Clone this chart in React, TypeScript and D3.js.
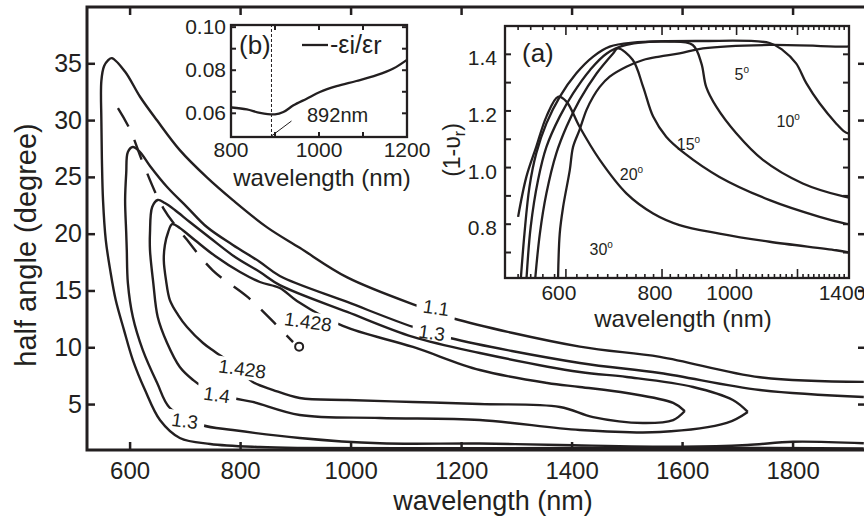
import React from "react";
import * as d3 from "d3";

type Pt = [number, number];

// ---- main contour plot: [wavelength (nm), half angle (deg)] ----
const mainXTicks = [600, 800, 1000, 1200, 1400, 1600, 1800];
const mainYTicks = [5, 10, 15, 20, 25, 30, 35];

const contour11: Pt[] = [
  [1928, 1.13], [1632, 1.2], [1414, 1.18], [1088, 1.15], [907, 1.18], [835, 1.26], [745, 1.53],
  [690, 2.06], [654, 3.64], [627, 6.28], [605, 8.92], [589, 11.56], [574, 14.2], [564, 16.84],
  [556, 19.48], [551, 23.0], [549, 26.5], [548, 30.0], [548, 33.5], [553, 34.8], [560, 35.3],
  [567, 35.5], [591, 34.3], [618, 32.1], [649, 30.0], [690, 27.4], [739, 25.0], [786, 23.0],
  [848, 20.6], [907, 18.8], [993, 16.2], [1125, 13.6], [1184, 12.6], [1414, 10.1], [1559, 9.2],
  [1740, 7.4], [1928, 7.0],
];
const contour13: Pt[] = [
  [1928, 1.59], [1800, 1.73], [1717, 1.44], [1601, 1.29], [1378, 1.44], [1233, 1.57], [1052, 1.59],
  [907, 2.06], [786, 2.76], [730, 3.2], [672, 4.7], [649, 6.9], [623, 9.8], [605, 12.71],
  [596, 15.7], [594, 18.61], [593, 20.1], [591, 23.0], [593, 25.38], [596, 27.23], [605, 27.67],
  [618, 27.23], [636, 26.0], [667, 24.15], [703, 22.39], [739, 20.63], [786, 19.05], [835, 17.55],
  [871, 16.32], [993, 14.03], [1112, 11.83], [1179, 10.86], [1414, 8.66], [1559, 7.78],
  [1740, 6.28], [1928, 5.67],
];
const contour14: Pt[] = [
  [1718, 4.35], [1680, 3.38], [1559, 2.58], [1414, 2.76], [1233, 3.64], [1052, 3.82], [907, 4.08],
  [822, 5.23], [786, 5.58], [732, 6.55], [714, 7.16], [690, 8.31], [667, 10.42], [650, 12.71],
  [642, 15.7], [636, 18.61], [636, 20.1], [640, 22.39], [650, 23.01], [663, 22.74], [681, 22.13],
  [708, 21.07], [745, 19.66], [790, 17.99], [835, 16.67], [871, 15.52], [993, 13.15],
  [1112, 10.95], [1233, 9.54], [1414, 7.87], [1499, 7.43], [1619, 6.55], [1691, 5.4], [1718, 4.35],
];
const contour1428: Pt[] = [
  [1604, 4.43], [1583, 3.64], [1528, 3.38], [1438, 3.9], [1378, 4.79], [1233, 5.05], [1112, 5.23],
  [993, 5.4], [907, 5.58], [859, 6.28], [822, 6.99], [790, 8.39], [754, 9.63], [732, 10.42],
  [703, 11.83], [687, 12.88], [672, 14.2], [665, 15.96], [661, 17.73], [663, 19.05], [669, 20.19],
  [676, 20.89], [690, 20.54], [717, 19.49], [754, 18.08], [799, 16.67], [835, 15.79], [871, 15.26],
  [902, 14.12], [985, 11.92], [1112, 10.07], [1233, 8.04], [1355, 6.9], [1414, 6.55], [1499, 6.02],
  [1583, 5.14], [1604, 4.43],
];
const contourLabels = ["1.1", "1.3", "1.428", "1.428", "1.4", "1.3"];
const contourLabelPos: Pt[] = [[1154, 13.5], [1146, 11.3], [922, 12.27], [803, 8.13], [757, 5.84], [699, 3.55]];
const contourLabelOn = [0, 1, 3, 3, 2, 1]; // which contour each label breaks
const contourLabelTilt = [8, 8, 8, 8, 8, 8];

const dashedTrace: Pt[] = [
  [578, 31.1], [600, 29.2], [623, 26.3], [660, 22.3], [703, 19.5], [750, 16.8], [812, 14.5],
  [859, 12.3], [895, 10.5],
];
const optimumPoint: Pt = [906, 10.1];

// ---- inset (b): -eps_i/eps_r ----
const bXTicks = [800, 900, 1000, 1100, 1200];
const bXLabels = [800, 1000, 1200];
const bYTicks = [0.06, 0.07, 0.08, 0.09, 0.1];
const bYLabels = [0.06, 0.08, 0.1];
const epsRatio: Pt[] = [
  [802, 0.0627], [836, 0.0618], [866, 0.0602], [900, 0.0595], [919, 0.0606], [942, 0.0637],
  [972, 0.0668], [1002, 0.0699], [1040, 0.0726], [1085, 0.075], [1131, 0.0777], [1169, 0.0808],
  [1199, 0.0847],
];
const minWavelength = 892;

// ---- inset (a): (1-Upsilon_r) vs wavelength for several angles ----
const aMajorTicks = [600, 800, 1000, 1200, 1400];
const aXLabels = [600, 800, 1000, 1400];
const aYTicks = [0.7, 0.8, 0.9, 1.0, 1.1, 1.2, 1.3, 1.4, 1.5];
const aYLabels = [0.8, 1.0, 1.2, 1.4];
const curve5: Pt[] = [
  [586, 0.6], [589, 0.767], [595, 0.861], [607, 0.991], [613, 1.073], [625, 1.133], [638, 1.203],
  [651, 1.25], [664, 1.285], [684, 1.321], [719, 1.356], [756, 1.38], [794, 1.392], [843, 1.403],
  [904, 1.421], [1104, 1.433], [1381, 1.427], [1400, 1.428],
];
const curve10: Pt[] = [
  [524, 0.6], [530, 0.767], [538, 0.932], [549, 1.05], [566, 1.156], [589, 1.25], [619, 1.333],
  [651, 1.392], [684, 1.427], [733, 1.441], [900, 1.447], [1104, 1.44], [1148, 1.415],
  [1195, 1.368], [1232, 1.298], [1282, 1.227], [1347, 1.156], [1381, 1.127], [1400, 1.12],
];
const curve15: Pt[] = [
  [533, 0.6], [540, 0.791], [552, 0.956], [566, 1.073], [589, 1.18], [613, 1.262], [645, 1.345],
  [678, 1.403], [719, 1.433], [818, 1.445], [877, 1.433], [900, 1.368], [913, 1.285], [941, 1.215],
  [999, 1.121], [1082, 1.027], [1219, 0.944], [1381, 0.897], [1400, 0.894],
];
const curve20: Pt[] = [
  [547, 0.6], [555, 0.767], [566, 0.909], [583, 1.05], [601, 1.144], [625, 1.238], [658, 1.333],
  [691, 1.403], [701, 1.421], [733, 1.38], [756, 1.285], [779, 1.18], [810, 1.109], [856, 1.05],
  [950, 0.967], [1104, 0.885], [1282, 0.826], [1381, 0.803], [1400, 0.8],
];
const curve30: Pt[] = [
  [520, 0.826], [533, 0.967], [549, 1.073], [566, 1.18], [586, 1.25], [601, 1.233], [625, 1.144],
  [664, 1.027], [719, 0.909], [779, 0.838], [843, 0.797], [950, 0.767], [1104, 0.738],
  [1347, 0.708], [1400, 0.7],
];
const angleNames = ["5", "10", "15", "20", "30"];
const angleLabelPos: Pt[] = [[994, 1.309], [1127, 1.143], [836, 1.062], [705, 0.956], [644, 0.691]];

const ink = "#231f20";
const font = "'Liberation Sans', Arial, sans-serif";

export default function App() {
  // main scales
  const mx = d3.scaleLinear().domain([522, 1932]).range([87, 866]);
  const my = d3.scaleLinear().domain([1, 40]).range([450, 7]);
  const mLine = d3.line<Pt>().x(d => mx(d[0])).y(d => my(d[1])).curve(d3.curveCatmullRom.alpha(0.5));

  // inset b
  const bx = d3.scaleLinear().domain([800, 1200]).range([231, 407]);
  const by = d3.scaleLinear().domain([0.049, 0.101]).range([137, 25]);
  const bLine = d3.line<Pt>().x(d => bx(d[0])).y(d => by(d[1])).curve(d3.curveCatmullRom.alpha(0.5));

  // inset a
  const ax = d3.scaleLog().domain([500, 1400]).range([505, 849]);
  const ay = d3.scaleLinear().domain([0.61, 1.5]).range([278, 26]);
  const aLine = d3.line<Pt>().x(d => ax(d[0])).y(d => ay(d[1])).curve(d3.curveCatmullRom.alpha(0.5));
  const aMinor = d3.range(500, 1401, 20);

  const [mx0, mx1] = mx.range();
  const [my0, my1] = my.range();
  const [bx0, bx1] = bx.range();
  const [by0, by1] = by.range();
  const [ax0, ax1] = ax.range();
  const [ay0, ay1] = ay.range();

  const contours = [contour11, contour13, contour14, contour1428];

  return (
    <svg width={864} height={517} style={{ position: "absolute", left: 0, top: 0, background: "#fff" }}
      fontFamily={font}>
      <defs>
        <clipPath id="mainClip"><rect x={mx0} y={my1} width={mx1 - mx0} height={my0 - my1} /></clipPath>
        <clipPath id="aClip"><rect x={ax0} y={ay1} width={ax1 - ax0} height={ay0 - ay1} /></clipPath>
        {contours.map((_, ci) => (
          <mask id={`cm${ci}`} key={ci} maskUnits="userSpaceOnUse" x={0} y={0} width={864} height={517}>
            <rect x={0} y={0} width={864} height={517} fill="#fff" />
            {contourLabels.map((t, i) => {
              if (contourLabelOn[i] !== ci) return null;
              const x = mx(contourLabelPos[i][0]);
              const y = my(contourLabelPos[i][1]);
              const w = t.length * 10.5 + 8;
              return (
                <rect key={i} x={x - w / 2} y={y - 10} width={w} height={20} fill="#000"
                  transform={`rotate(${contourLabelTilt[i]},${x},${y})`} />
              );
            })}
          </mask>
        ))}
      </defs>

      {/* main contours */}
      <g clipPath="url(#mainClip)" fill="none" stroke={ink} strokeWidth={2.4}>
        {contours.map((c, i) => (
          <path key={i} d={mLine(c) || ""} mask={`url(#cm${i})`} />
        ))}
        <path d={mLine(dashedTrace) || ""} strokeDasharray="21 15" />
        <circle cx={mx(optimumPoint[0])} cy={my(optimumPoint[1])} r={4} strokeWidth={2} fill="#fff" />
      </g>
      {contourLabels.map((t, i) => {
        const x = mx(contourLabelPos[i][0]);
        const y = my(contourLabelPos[i][1]);
        return (
          <text key={i} x={x} y={y} fontSize={19} textAnchor="middle" dominantBaseline="central"
            fill={ink} transform={`rotate(${contourLabelTilt[i]},${x},${y})`}>{t}</text>
        );
      })}

      {/* main frame and ticks */}
      <rect x={mx0} y={my1} width={mx1 - mx0} height={my0 - my1} fill="none" stroke={ink} strokeWidth={3} />
      {mainXTicks.map(t => (
        <g key={t}>
          <line x1={mx(t)} x2={mx(t)} y1={my0} y2={my0 - 8} stroke={ink} strokeWidth={2.5} />
          <line x1={mx(t)} x2={mx(t)} y1={my1} y2={my1 + 8} stroke={ink} strokeWidth={2.5} />
          <text x={mx(t)} y={479} fontSize={24} textAnchor="middle" fill={ink}>{t}</text>
        </g>
      ))}
      {mainYTicks.map(t => (
        <g key={t}>
          <line x1={mx0} x2={mx0 + 8} y1={my(t)} y2={my(t)} stroke={ink} strokeWidth={2.5} />
          <line x1={mx1} x2={mx1 - 8} y1={my(t)} y2={my(t)} stroke={ink} strokeWidth={2.5} />
          <text x={82} y={my(t) + 8} fontSize={25} textAnchor="end" fill={ink}>{t}</text>
        </g>
      ))}
      <text x={493} y={510} fontSize={27} textAnchor="middle" fill={ink}>wavelength (nm)</text>
      <text transform="translate(36,245) rotate(-90)" fontSize={29} textAnchor="middle" fill={ink}>half angle (degree)</text>

      {/* inset (b) */}
      <rect x={bx0} y={by1} width={bx1 - bx0} height={by0 - by1} fill="#fff" stroke="none" />
      <line x1={bx(minWavelength)} x2={bx(minWavelength)} y1={by0} y2={by1} stroke={ink} strokeWidth={1} strokeDasharray="3 2" />
      <path d={bLine(epsRatio) || ""} fill="none" stroke={ink} strokeWidth={2.3} />
      <line x1={bx(minWavelength)} y1={by0 - 1} x2={bx(minWavelength) + 20} y2={by0 - 16} stroke={ink} strokeWidth={1} />
      <text x={307} y={122} fontSize={20} fill={ink}>{minWavelength}nm</text>
      <rect x={bx0} y={by1} width={bx1 - bx0} height={by0 - by1} fill="none" stroke={ink} strokeWidth={2.3} />
      {bXTicks.map(t => (
        <g key={t}>
          <line x1={bx(t)} x2={bx(t)} y1={by0} y2={by0 - 5} stroke={ink} strokeWidth={2} />
          <line x1={bx(t)} x2={bx(t)} y1={by1} y2={by1 + 5} stroke={ink} strokeWidth={2} />
        </g>
      ))}
      {bXLabels.map(t => (
        <text key={t} x={bx(t)} y={157} fontSize={21} textAnchor="middle" fill={ink}>{t}</text>
      ))}
      {bYTicks.map(t => (
        <g key={t}>
          <line x1={bx0} x2={bx0 + 5} y1={by(t)} y2={by(t)} stroke={ink} strokeWidth={2} />
          <line x1={bx1} x2={bx1 - 5} y1={by(t)} y2={by(t)} stroke={ink} strokeWidth={2} />
        </g>
      ))}
      {bYLabels.map(t => (
        <text key={t} x={226} y={by(t) + 7} fontSize={21} textAnchor="end" fill={ink}>{t.toFixed(2)}</text>
      ))}
      <text x={239} y={54} fontSize={26} fill={ink}>(b)</text>
      <line x1={302} x2={328} y1={45} y2={45} stroke={ink} strokeWidth={2.3} />
      <text x={330} y={53} fontSize={25} fill={ink}>
        -ε<tspan dy={1}>i</tspan><tspan dy={-1}>/ε</tspan><tspan dy={1}>r</tspan>
      </text>
      <text x={322} y={186} fontSize={24} textAnchor="middle" fill={ink}>wavelength (nm)</text>

      {/* inset (a) */}
      <rect x={ax0} y={ay1} width={ax1 - ax0} height={ay0 - ay1} fill="#fff" stroke="none" />
      <g clipPath="url(#aClip)" fill="none" stroke={ink} strokeWidth={2.3}>
        {[curve5, curve10, curve15, curve20, curve30].map((c, i) => (
          <path key={i} d={aLine(c) || ""} />
        ))}
      </g>
      <rect x={ax0} y={ay1} width={ax1 - ax0} height={ay0 - ay1} fill="none" stroke={ink} strokeWidth={2.3} />
      {aMinor.map(t => {
        const len = aMajorTicks.includes(t) ? 9 : 4;
        return (
          <g key={t}>
            <line x1={ax(t)} x2={ax(t)} y1={ay0} y2={ay0 - len} stroke={ink} strokeWidth={1.6} />
            <line x1={ax(t)} x2={ax(t)} y1={ay1} y2={ay1 + len} stroke={ink} strokeWidth={1.6} />
          </g>
        );
      })}
      {aXLabels.map(t => (
        <text key={t} x={ax(t) - 7} y={300} fontSize={21} textAnchor="middle" fill={ink}>{t}</text>
      ))}
      {aYTicks.map(t => (
        <g key={t}>
          <line x1={ax0} x2={ax0 + 6} y1={ay(t)} y2={ay(t)} stroke={ink} strokeWidth={2} />
          <line x1={ax1} x2={ax1 - 6} y1={ay(t)} y2={ay(t)} stroke={ink} strokeWidth={2} />
        </g>
      ))}
      {aYLabels.map(t => (
        <text key={t} x={497} y={ay(t) + 11} fontSize={21} textAnchor="end" fill={ink}>{t.toFixed(1)}</text>
      ))}
      <text x={522} y={62} fontSize={26} fill={ink}>(a)</text>
      {angleNames.map((n, i) => (
        <text key={n} x={ax(angleLabelPos[i][0])} y={ay(angleLabelPos[i][1])} fontSize={16} fill={ink}>
          {n}<tspan fontSize={10} dy={-7}>o</tspan>
        </text>
      ))}
      <text transform="translate(460,150) rotate(-90)" fontSize={23} textAnchor="middle" fill={ink}>
        (1-υ<tspan fontSize={16} dy={5}>r</tspan><tspan dy={-5}>)</tspan>
      </text>
      <text x={683} y={327} fontSize={24} textAnchor="middle" fill={ink}>wavelength (nm)</text>
    </svg>
  );
}
